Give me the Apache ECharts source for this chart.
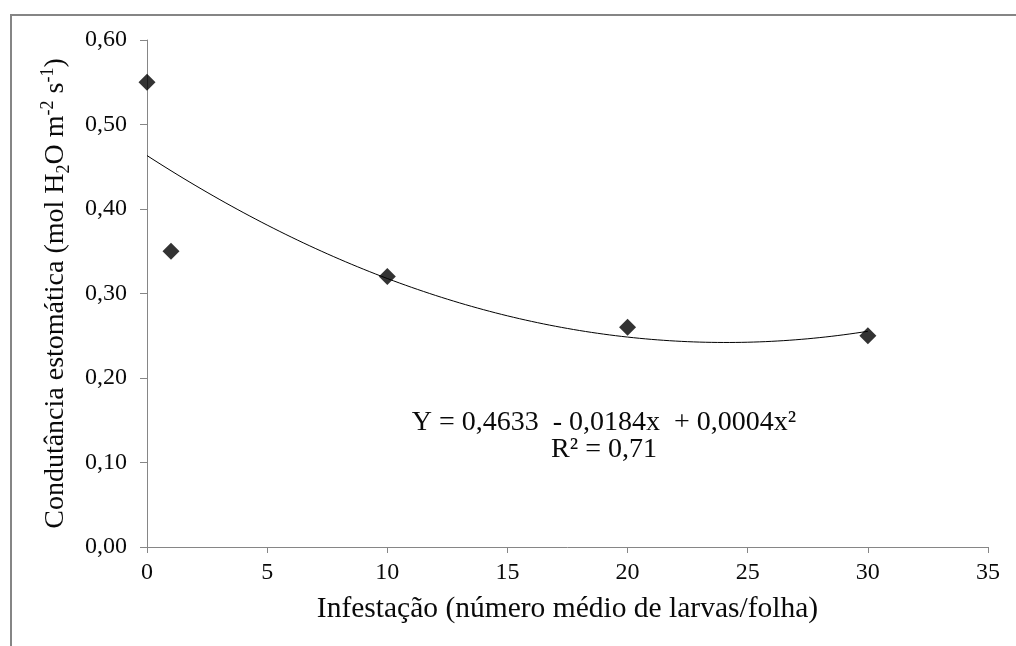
<!DOCTYPE html>
<html>
<head>
<meta charset="utf-8">
<style>
  html, body { margin: 0; padding: 0; background: #ffffff; }
  #chart { width: 1016px; height: 646px; }
</style>
<script src="https://cdn.jsdelivr.net/npm/echarts@6/dist/echarts.min.js"></script>
</head>
<body>
<div id="chart"></div>
<script>
// Observed points: mean larvae per leaf vs stomatal conductance
const infestacao = [0, 1, 10, 20, 30];
const condutancia = [0.55, 0.35, 0.32, 0.26, 0.25];

// Axis ranges
const xRange = [0, 35, 5];
const yRange = [0, 0.6, 0.1];

// Fitted equation text
const equationLines = ['Y = 0,4633  - 0,0184x  + 0,0004x\u00B2', 'R\u00B2 = 0,71'];

// Quadratic least-squares fit y = a + b x + c x^2
function fitQuadratic(xs, ys) {
  let s = [0, 0, 0, 0, 0], t = [0, 0, 0];
  xs.forEach((x, i) => {
    for (let k = 0; k < 5; k++) s[k] += Math.pow(x, k);
    for (let k = 0; k < 3; k++) t[k] += Math.pow(x, k) * ys[i];
  });
  const M = [[s[0], s[1], s[2]], [s[1], s[2], s[3]], [s[2], s[3], s[4]]];
  const det = m => m[0][0] * (m[1][1] * m[2][2] - m[1][2] * m[2][1])
                 - m[0][1] * (m[1][0] * m[2][2] - m[1][2] * m[2][0])
                 + m[0][2] * (m[1][0] * m[2][1] - m[1][1] * m[2][0]);
  const D = det(M);
  return [0, 1, 2].map(col => {
    const m = M.map((row, r) => row.map((v, c) => (c === col ? t[r] : v)));
    return det(m) / D;
  });
}

const [a, b, c] = fitQuadratic(infestacao, condutancia);
const xMin = Math.min(...infestacao), xMax = Math.max(...infestacao);
const trend = [];
for (let x = xMin; x <= xMax + 1e-9; x += 0.25) {
  trend.push([x, a + b * x + c * x * x]);
}

const serif = '"Liberation Serif", "Times New Roman", serif';
const axisGray = '#868686';
const ink = '#0a0a0a';

const chart = echarts.init(document.getElementById('chart'), null, { renderer: 'canvas' });
chart.setOption({
  backgroundColor: '#ffffff',
  animation: false,
  grid: { left: 147, right: 28, top: 40, bottom: 99 },
  xAxis: {
    type: 'value',
    min: xRange[0], max: xRange[1], interval: xRange[2],
    name: 'Infestação (número médio de larvas/folha)',
    nameLocation: 'middle',
    nameGap: 47,
    nameTextStyle: { fontFamily: serif, fontSize: 29.5, color: ink },
    axisLine: { onZero: false, lineStyle: { color: axisGray, width: 1 } },
    axisTick: { show: true, length: 6, lineStyle: { color: axisGray } },
    axisLabel: { fontFamily: serif, fontSize: 24, color: ink, margin: 14 },
    splitLine: { show: false }
  },
  yAxis: {
    type: 'value',
    min: yRange[0], max: yRange[1], interval: yRange[2],
    name: '{a|Condutância estomática (mol H}{sub|2}{a|O m}{sup|-2}{a| s}{sup|-1}{a|)}',
    nameLocation: 'middle',
    nameRotate: 90,
    nameGap: 74,
    nameTextStyle: {
      rich: {
        a: { fontFamily: serif, fontSize: 28, color: ink, lineHeight: 34 },
        sub: { fontFamily: serif, fontSize: 18, color: ink, lineHeight: 14, verticalAlign: 'bottom' },
        sup: { fontFamily: serif, fontSize: 18, color: ink, lineHeight: 18, verticalAlign: 'top' }
      }
    },
    axisLine: { show: true, onZero: false, lineStyle: { color: axisGray, width: 1 } },
    axisTick: { show: true, length: 7, lineStyle: { color: axisGray } },
    axisLabel: {
      fontFamily: serif, fontSize: 24, color: ink, margin: 20,
      formatter: v => v.toFixed(2).replace('.', ',')
    },
    splitLine: { show: false }
  },
  series: [
    {
      type: 'line',
      data: trend,
      showSymbol: false,
      smooth: false,
      lineStyle: { color: '#000', width: 1 },
      z: 2,
      silent: true
    },
    {
      type: 'scatter',
      data: infestacao.map((x, i) => [x, condutancia[i]]),
      symbol: 'diamond',
      symbolSize: 17,
      itemStyle: { color: '#000' },
      z: 3
    }
  ],
  graphic: [
    {
      type: 'rect',
      shape: { x: 11, y: 15, width: 1200, height: 800 },
      style: { fill: 'none', stroke: '#858585', lineWidth: 2 },
      silent: true
    },
    {
      type: 'text',
      x: 604, y: 409,
      style: {
        text: equationLines.join('\n'),
        fontFamily: serif, fontSize: 28, lineHeight: 27,
        fill: ink, align: 'center', verticalAlign: 'top'
      }
    }
  ]
});
</script>
</body>
</html>
